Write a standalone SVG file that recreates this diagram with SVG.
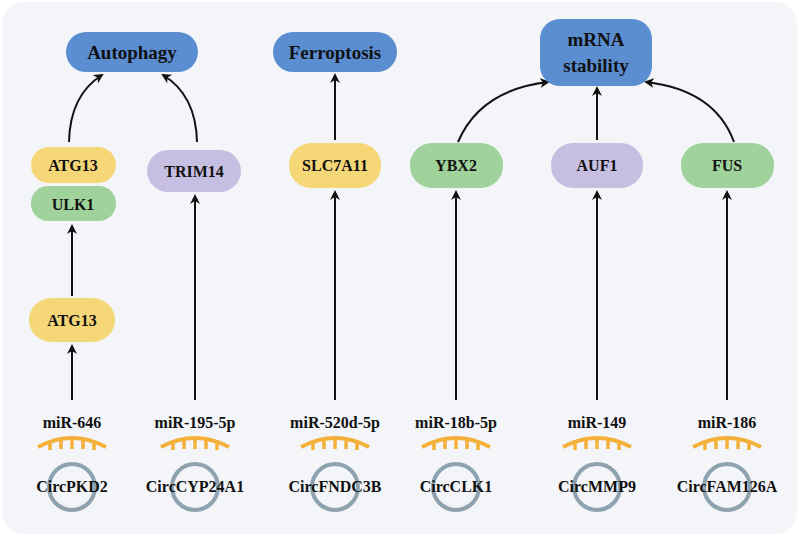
<svg xmlns="http://www.w3.org/2000/svg" width="799" height="536" viewBox="0 0 799 536">
<defs>
<marker id="ah" viewBox="0 0 10 10" refX="8" refY="5" markerWidth="5" markerHeight="5" orient="auto-start-reverse"><path d="M0,0 L10,5 L0,10 L3,5 Z" fill="#111"/></marker>
<g id="mir"><path d="M-34,10 Q0,-8 34,10" fill="none" stroke="#f4b13a" stroke-width="4"/><path d="M-22,5 v8 M-11,2 v10 M0,1 v11 M11,2 v10 M22,5 v8" stroke="#f4b13a" stroke-width="3.5"/></g>
</defs>
<style>
text{font-family:"Liberation Serif",serif;font-weight:bold;fill:#111;text-anchor:middle}
.t{font-size:19px}.s{font-size:16px}
.blue{fill:#5b8dd1}.yel{fill:#f5d777}.grn{fill:#9fd39b}.pur{fill:#c7bfe2}
.ln{stroke:#111;stroke-width:2;fill:none;marker-end:url(#ah)}
.circ{fill:none;stroke:#8ea2b0;stroke-width:4}
</style>
<rect x="2" y="2" width="795" height="532" rx="22" fill="#f3f5f8"/>
<g id="connectors">
<path class="ln" d="M69,142 Q70,95 102,75"/>
<path class="ln" d="M197,142 Q196,95 163,75"/>
<path class="ln" d="M335,140 V75"/>
<path class="ln" d="M458,142 Q480,90 548,82"/>
<path class="ln" d="M597,140 V88"/>
<path class="ln" d="M734,142 Q715,90 646,82"/>
<path class="ln" d="M72,296 V226"/>
<path class="ln" d="M72,400 V346"/>
<path class="ln" d="M195,400 V196"/>
<path class="ln" d="M335,400 V192"/>
<path class="ln" d="M456,400 V192"/>
<path class="ln" d="M597,400 V192"/>
<path class="ln" d="M727,400 V192"/>
</g>
<g id="autophagy"><rect class="blue" x="66" y="32" width="132" height="40" rx="20"/><text class="t" x="132" y="59">Autophagy</text></g>
<g id="ferroptosis"><rect class="blue" x="273" y="32" width="124" height="40" rx="20"/><text class="t" x="335" y="59">Ferroptosis</text></g>
<g id="mrna"><rect class="blue" x="540" y="19" width="112" height="67" rx="20"/><text class="t" x="596" y="46">mRNA</text><text class="t" x="596" y="72">stability</text></g>
<g id="atg13a"><rect class="yel" x="31" y="147" width="85" height="36" rx="18"/><text class="s" x="73" y="171">ATG13</text></g>
<g id="ulk1"><rect class="grn" x="31" y="186" width="85" height="35" rx="17"/><text class="s" x="73" y="210">ULK1</text></g>
<g id="trim14"><rect class="pur" x="147" y="150" width="94" height="42" rx="21"/><text class="s" x="194" y="177">TRIM14</text></g>
<g id="slc7a11"><rect class="yel" x="289" y="143" width="92" height="45" rx="22"/><text class="s" x="335" y="171">SLC7A11</text></g>
<g id="ybx2"><rect class="grn" x="410" y="143" width="93" height="45" rx="22"/><text class="s" x="456" y="171">YBX2</text></g>
<g id="auf1"><rect class="pur" x="551" y="143" width="92" height="45" rx="22"/><text class="s" x="597" y="171">AUF1</text></g>
<g id="fus"><rect class="grn" x="681" y="143" width="93" height="45" rx="22"/><text class="s" x="727" y="171">FUS</text></g>
<g id="atg13b"><rect class="yel" x="29" y="298" width="86" height="44" rx="22"/><text class="s" x="72" y="326">ATG13</text></g>
<g id="c1"><text class="s" x="72" y="428">miR-646</text><use href="#mir" x="72" y="437"/><circle class="circ" cx="72" cy="487" r="23"/><text class="s" x="72" y="492">CircPKD2</text></g>
<g id="c2"><text class="s" x="195" y="428">miR-195-5p</text><use href="#mir" x="195" y="437"/><circle class="circ" cx="195" cy="487" r="23"/><text class="s" x="195" y="492">CircCYP24A1</text></g>
<g id="c3"><text class="s" x="335" y="428">miR-520d-5p</text><use href="#mir" x="335" y="437"/><circle class="circ" cx="335" cy="487" r="23"/><text class="s" x="335" y="492">CircFNDC3B</text></g>
<g id="c4"><text class="s" x="456" y="428">miR-18b-5p</text><use href="#mir" x="456" y="437"/><circle class="circ" cx="456" cy="487" r="23"/><text class="s" x="456" y="492">CircCLK1</text></g>
<g id="c5"><text class="s" x="597" y="428">miR-149</text><use href="#mir" x="597" y="437"/><circle class="circ" cx="597" cy="487" r="23"/><text class="s" x="597" y="492">CircMMP9</text></g>
<g id="c6"><text class="s" x="727" y="428">miR-186</text><use href="#mir" x="727" y="437"/><circle class="circ" cx="727" cy="487" r="23"/><text class="s" x="727" y="492">CircFAM126A</text></g>
</svg>
